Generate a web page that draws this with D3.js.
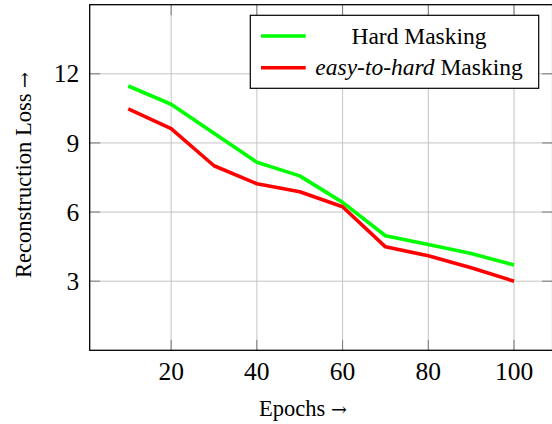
<!DOCTYPE html>
<html>
<head>
<meta charset="utf-8">
<script src="https://cdn.jsdelivr.net/npm/d3@7"></script>
<style>
  body { margin: 0; background: #fff; }
  text { font-family: "Liberation Serif", "Times New Roman", serif; fill: #000; }
</style>
</head>
<body>
<script>
var W = 552, H = 424;

// data
var epochs = [10, 20, 30, 40, 50, 60, 70, 80, 90, 100];
var hardLoss = [11.47, 10.68, 9.42, 8.16, 7.57, 6.42, 4.97, 4.59, 4.2, 3.7];
var easyLoss = [10.48, 9.62, 8.01, 7.23, 6.88, 6.23, 4.49, 4.1, 3.58, 3.0];
var xTicks = [20, 40, 60, 80, 100];
var yTicks = [3, 6, 9, 12];

var seriesNames = ["Hard Masking", "easy-to-hard"];
var seriesColors = ["#00ff00", "#ff0000"];

var pL = 89.7, pR = 552.6, pT = 4.7, pB = 350.3;

var x = d3.scaleLinear().domain([1, 109]).range([pL, pR]);
var y = d3.scaleLinear().domain([0, 15]).range([pB, pT]);

var svg = d3.select("body").append("svg")
    .attr("width", W)
    .attr("height", H);

// grid
svg.append("g").selectAll("line")
    .data(xTicks)
  .enter().append("line")
    .attr("x1", function(d){ return x(d); })
    .attr("x2", function(d){ return x(d); })
    .attr("y1", pT)
    .attr("y2", pB)
    .style("stroke", "#c4c4c4")
    .style("stroke-width", 1);

svg.append("g").selectAll("line")
    .data(yTicks)
  .enter().append("line")
    .attr("x1", pL)
    .attr("x2", pR)
    .attr("y1", function(d){ return y(d); })
    .attr("y2", function(d){ return y(d); })
    .style("stroke", "#c4c4c4")
    .style("stroke-width", 1);

// tick marks, inside on all four sides
var tl = 10.5;
var tickG = svg.append("g").style("stroke", "#7a7a7a").style("stroke-width", 1);
xTicks.forEach(function(d){
	tickG.append("line").attr("x1", x(d)).attr("x2", x(d)).attr("y1", pB).attr("y2", pB - tl);
	tickG.append("line").attr("x1", x(d)).attr("x2", x(d)).attr("y1", pT).attr("y2", pT + tl);
});
yTicks.forEach(function(d){
	tickG.append("line").attr("x1", pL).attr("x2", pL + tl).attr("y1", y(d)).attr("y2", y(d));
	tickG.append("line").attr("x1", pR).attr("x2", pR - tl).attr("y1", y(d)).attr("y2", y(d));
});

// tick labels
svg.append("g").selectAll("text")
    .data(xTicks)
  .enter().append("text")
    .attr("x", function(d){ return x(d); })
    .attr("y", pB + 30)
    .attr("text-anchor", "middle")
    .style("font-size", "25.5px")
    .text(function(d){ return d; });

svg.append("g").selectAll("text")
    .data(yTicks)
  .enter().append("text")
    .attr("x", pL - 10.5)
    .attr("y", function(d){ return y(d); })
    .attr("dy", "0.34em")
    .attr("text-anchor", "end")
    .style("font-size", "25.5px")
    .text(function(d){ return d; });

// lines
var line = d3.line()
    .x(function(d){ return x(d[0]); })
    .y(function(d){ return y(d[1]); });

[hardLoss, easyLoss].forEach(function(vals, i){
	svg.append("path")
	    .datum(d3.zip(epochs, vals))
	    .attr("d", line)
	    .style("fill", "none")
	    .style("stroke", seriesColors[i])
	    .style("stroke-width", 3.6)
	    .style("stroke-linejoin", "round");
});

// frame
svg.append("rect")
    .attr("x", pL)
    .attr("y", pT)
    .attr("width", pR - pL)
    .attr("height", pB - pT)
    .style("fill", "none")
    .style("stroke", "#000")
    .style("stroke-width", 1.3);

// axis titles, arrow drawn in a wider font like the LaTeX \rightarrow
function arrowLabel(sel, label){
	sel.append("tspan").text(label + " ");
	sel.append("tspan")
	    .style("font-family", "'DejaVu Serif', serif")
	    .style("font-size", "19px")
	    .text("\u2192");
}

svg.append("text")
    .attr("x", 303)
    .attr("y", 416)
    .attr("text-anchor", "middle")
    .style("font-size", "22.5px")
    .call(arrowLabel, "Epochs");

svg.append("text")
    .attr("transform", "translate(31,175) rotate(-90)")
    .attr("text-anchor", "middle")
    .style("font-size", "22.5px")
    .call(arrowLabel, "Reconstruction Loss");

// legend
var lg = svg.append("g");
lg.append("rect")
    .attr("x", 250.3)
    .attr("y", 15.3)
    .attr("width", 288.4)
    .attr("height", 73)
    .style("fill", "#fff")
    .style("stroke", "#000")
    .style("stroke-width", 1.2);

var rows = lg.selectAll(".row")
    .data(seriesNames)
  .enter().append("g")
    .attr("class", "row")
    .attr("transform", function(d, i){ return "translate(0," + (36 + i * 31.7) + ")"; });

rows.append("line")
    .attr("x1", 261)
    .attr("x2", 305.7)
    .style("stroke", function(d, i){ return seriesColors[i]; })
    .style("stroke-width", 3.6);

var lt = rows.append("text")
    .attr("x", 419)
    .attr("dy", "0.33em")
    .attr("text-anchor", "middle")
    .style("font-size", "23.5px");
lt.filter(function(d, i){ return i === 0; }).text(function(d){ return d; });
lt.filter(function(d, i){ return i === 1; }).each(function(d){
	var t = d3.select(this);
	t.append("tspan").style("font-style", "italic").text(d);
	t.append("tspan").text(" Masking");
});
</script>
</body>
</html>
